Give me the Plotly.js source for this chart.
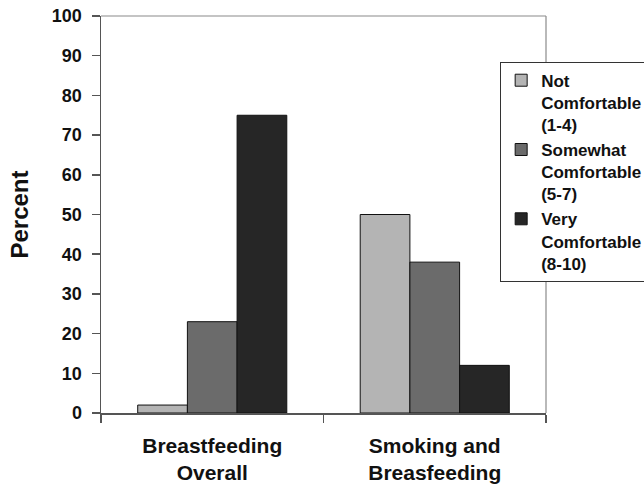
<!DOCTYPE html>
<html>
<head>
<meta charset="utf-8">
<script src="https://cdn.plot.ly/plotly-3.0.1.min.js"></script>
<style>html,body{margin:0;padding:0;background:#fff;}#chart{width:644px;height:489px;}</style>
</head>
<body>
<div id="chart"></div>
<script>
var categories = ["Breastfeeding<br>Overall", "Smoking and<br>Breasfeeding"];
var seriesNames = ["Not<br>Comfortable<br>(1-4)", "Somewhat<br>Comfortable<br>(5-7)", "Very<br>Comfortable<br>(8-10)"];
var notComfortable = [2, 50];
var somewhatComfortable = [23, 38];
var veryComfortable = [75, 12];
var yTicks = [0, 10, 20, 30, 40, 50, 60, 70, 80, 90, 100];

var colors = ["#b4b4b4", "#6b6b6b", "#262626"];
var values = [notComfortable, somewhatComfortable, veryComfortable];
var FONT = "Liberation Sans, Arial, sans-serif";

var traces = values.map(function (v, i) {
  return {
    type: "bar",
    x: categories,
    y: v,
    name: seriesNames[i],
    marker: { color: colors[i], line: { color: "#111", width: 1 } },
    hoverinfo: "skip"
  };
});

var layout = {
  width: 644,
  height: 489,
  margin: { l: 101, r: 98, t: 16, b: 76, autoexpand: false },
  paper_bgcolor: "#fff",
  plot_bgcolor: "#fff",
  barmode: "group",
  bargap: 0.33,
  bargroupgap: 0,
  showlegend: true,
  legend: {
    x: 0.897, xanchor: "left",
    y: 0.885, yanchor: "top",
    bgcolor: "#fff",
    bordercolor: "#333",
    borderwidth: 1,
    valign: "top",
    itemwidth: 30,
    tracegroupgap: 6,
    font: { family: FONT, size: 17, weight: "bold", color: "#111" }
  },
  shapes: [
    { type: "line", xref: "paper", yref: "paper", x0: 0, x1: 1, y0: 1, y1: 1, line: { color: "#8a8a8a", width: 1.2 } },
    { type: "line", xref: "paper", yref: "paper", x0: 1, x1: 1, y0: 0, y1: 1, line: { color: "#8a8a8a", width: 1.2 } }
  ],
  xaxis: {
    type: "category",
    showline: true,
    linecolor: "#555",
    linewidth: 1.5,
    mirror: false,
    ticks: "outside",
    tickson: "boundaries",
    ticklen: 8,
    tickcolor: "#555",
    tickwidth: 1.5,
    showgrid: false,
    ticklabelstandoff: 13,
    tickfont: { family: FONT, size: 21, weight: "bold", color: "#111" }
  },
  yaxis: {
    range: [0, 100],
    tickvals: yTicks,
    ticktext: yTicks.map(String),
    showline: true,
    linecolor: "#555",
    linewidth: 1.5,
    mirror: false,
    ticks: "outside",
    ticklen: 8,
    tickcolor: "#555",
    tickwidth: 1.5,
    showgrid: false,
    zeroline: false,
    ticklabelstandoff: 6,
    tickfont: { family: FONT, size: 18, weight: "bold", color: "#111" },
    title: { text: "Percent", standoff: 16, font: { family: FONT, size: 24, weight: "bold", color: "#111" } }
  }
};

Plotly.newPlot("chart", traces, layout, { displayModeBar: false, staticPlot: true });
</script>
</body>
</html>
